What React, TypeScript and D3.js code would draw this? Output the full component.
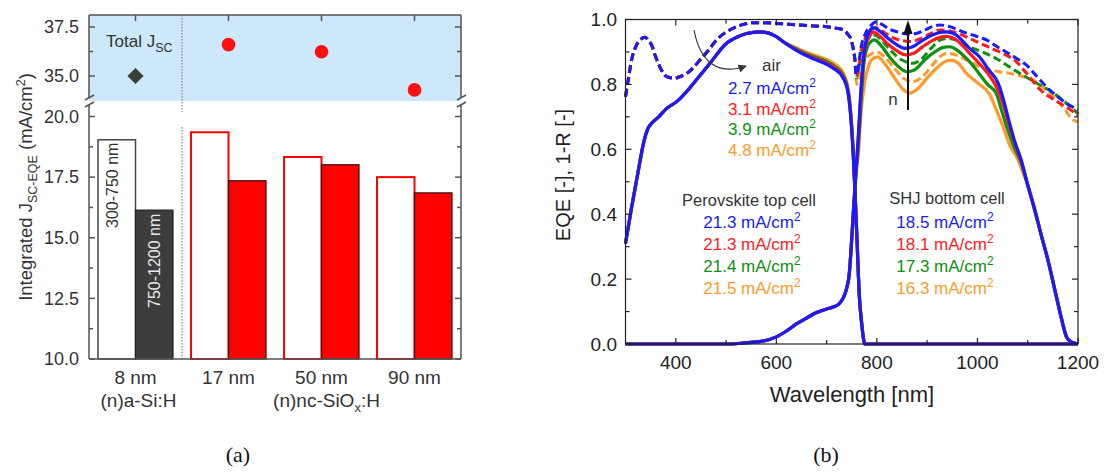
import * as d3 from "d3"

// ---------- panel (a): integrated Jsc ----------
const categories = ["8 nm", "17 nm", "50 nm", "90 nm"]
const topCellJsc = [19.04, 19.35, 18.33, 17.5]      // 300-750 nm
const bottomCellJsc = [16.14, 17.35, 18.01, 16.85]  // 750-1200 nm
const totalJsc = [35.0, 36.6, 36.24, 34.29]
const upperTicks = [35.0, 37.5]
const upperMinor = [36.25]
const lowerTicks = [10.0, 12.5, 15.0, 17.5, 20.0]
const lowerMinor = [11.25, 13.75, 16.25, 18.75]

// ---------- panel (b): EQE and 1-R spectra ----------
const colors = ["#1a1aff", "#ff1a1a", "#109010", "#ff9a2a"] // blue, red, green, orange
const reflLabels = ["2.7", "3.1", "3.9", "4.8"]
const topLabels = ["21.3", "21.3", "21.4", "21.5"]
const bottomLabels = ["18.5", "18.1", "17.3", "16.3"]
const xTicks = [400, 600, 800, 1000, 1200]
const xMinor = [500, 700, 900, 1100]
const yTicks = [0, 0.2, 0.4, 0.6, 0.8, 1.0]
const yMinor = [0.1, 0.3, 0.5, 0.7, 0.9]

const topStart = [[300, 0.31], [312, 0.42], [325, 0.53], [336, 0.62], [345, 0.665], [352, 0.68], [366, 0.7], [382, 0.726], [402, 0.747], [420, 0.775], [435, 0.803], [468, 0.865], [501, 0.927], [525, 0.948], [541, 0.957], [567, 0.962], [585, 0.958], [600, 0.947], [615, 0.93]]
const topEnd = [[757, 0.45], [761, 0.3], [765, 0.15], [770, 0.06], [776, 0.0], [900, 0], [1200, 0]]
const topBlue = [[633, 0.911], [655, 0.892], [680, 0.875], [700, 0.862], [713, 0.85], [733, 0.819], [743, 0.77], [749, 0.68], [753, 0.58]]
const topRed = [[633, 0.913], [655, 0.895], [680, 0.879], [700, 0.866], [713, 0.854], [733, 0.823], [743, 0.775], [749, 0.685], [753, 0.585]]
const topGreen = [[633, 0.915], [655, 0.898], [680, 0.883], [700, 0.871], [713, 0.859], [733, 0.828], [743, 0.78], [749, 0.69], [753, 0.59]]
const topOrange = [[633, 0.917], [655, 0.902], [680, 0.888], [700, 0.877], [713, 0.866], [733, 0.835], [743, 0.786], [749, 0.695], [753, 0.595]]

const bottomStart = [[300, 0], [510, 0], [540, 0.004], [570, 0.008], [600, 0.022], [620, 0.04], [640, 0.062], [660, 0.08], [680, 0.097], [700, 0.108], [713, 0.114], [725, 0.124], [733, 0.142], [740, 0.172], [745, 0.215], [749, 0.3], [753, 0.4], [758, 0.52]]
const bottomEnd = [[1100, 0.49], [1114, 0.413], [1127, 0.335], [1140, 0.26], [1152, 0.18], [1163, 0.105], [1170, 0.06], [1177, 0.022], [1185, 0.008], [1193, 0.003], [1200, 0]]
const bottomBlue = [[763, 0.64], [769, 0.8], [774, 0.89], [779, 0.937], [786, 0.965], [792, 0.975], [805, 0.965], [820, 0.945], [840, 0.922], [855, 0.911], [870, 0.915], [890, 0.935], [910, 0.952], [925, 0.96], [938, 0.962], [955, 0.955], [970, 0.935], [985, 0.91], [1004, 0.885], [1020, 0.85], [1044, 0.793], [1054, 0.74], [1064, 0.68], [1075, 0.62], [1087, 0.567]]
const bottomRed = [[763, 0.63], [769, 0.79], [774, 0.88], [779, 0.925], [786, 0.95], [792, 0.962], [805, 0.95], [820, 0.927], [840, 0.903], [857, 0.891], [872, 0.895], [890, 0.915], [910, 0.935], [925, 0.945], [938, 0.948], [955, 0.94], [970, 0.92], [985, 0.895], [1000, 0.87], [1020, 0.835], [1040, 0.785], [1052, 0.735], [1062, 0.68], [1075, 0.615], [1087, 0.563]]
const bottomGreen = [[763, 0.61], [769, 0.76], [774, 0.86], [781, 0.915], [788, 0.932], [795, 0.937], [808, 0.92], [825, 0.885], [845, 0.852], [860, 0.839], [875, 0.845], [895, 0.875], [915, 0.9], [932, 0.914], [945, 0.916], [960, 0.905], [975, 0.885], [990, 0.86], [1005, 0.83], [1020, 0.8], [1037, 0.773], [1048, 0.72], [1058, 0.67], [1072, 0.61], [1087, 0.558]]
const bottomOrange = [[763, 0.58], [769, 0.72], [775, 0.8], [782, 0.85], [790, 0.877], [802, 0.885], [815, 0.865], [835, 0.82], [852, 0.785], [865, 0.773], [880, 0.785], [900, 0.82], [920, 0.852], [935, 0.87], [948, 0.875], [962, 0.865], [978, 0.834], [1000, 0.805], [1024, 0.77], [1038, 0.72], [1051, 0.67], [1065, 0.61], [1080, 0.57], [1090, 0.53]]

const reflStart = [[300, 0.762], [306, 0.82], [312, 0.875], [320, 0.915], [329, 0.937], [339, 0.945], [346, 0.935], [352, 0.921], [360, 0.885], [368, 0.855], [382, 0.824], [397, 0.819], [410, 0.825], [422, 0.834], [435, 0.852], [448, 0.875], [465, 0.905], [481, 0.937], [497, 0.958], [514, 0.973], [535, 0.985], [554, 0.99], [580, 0.99], [600, 0.988], [625, 0.985], [647, 0.983], [675, 0.98], [700, 0.978], [720, 0.973], [733, 0.968], [742, 0.955], [749, 0.937], [753, 0.91], [756, 0.88]]
const reflBlue = [[759, 0.83], [763, 0.85], [768, 0.91], [776, 0.952], [789, 0.983], [799, 0.993], [810, 0.985], [825, 0.97], [845, 0.96], [860, 0.955], [878, 0.957], [895, 0.967], [910, 0.978], [925, 0.983], [945, 0.978], [971, 0.962], [995, 0.95], [1018, 0.937], [1040, 0.915], [1057, 0.9], [1078, 0.88], [1097, 0.86], [1118, 0.825], [1137, 0.793], [1157, 0.765], [1177, 0.742], [1200, 0.721]]
const reflRed = [[759, 0.825], [763, 0.845], [768, 0.9], [776, 0.94], [789, 0.968], [797, 0.975], [810, 0.965], [830, 0.945], [850, 0.935], [868, 0.932], [885, 0.94], [905, 0.955], [925, 0.968], [945, 0.965], [970, 0.952], [991, 0.937], [1015, 0.92], [1044, 0.9], [1077, 0.87], [1100, 0.83], [1124, 0.785], [1150, 0.755], [1177, 0.73], [1200, 0.705]]
const reflGreen = [[759, 0.82], [765, 0.86], [772, 0.91], [782, 0.94], [795, 0.952], [810, 0.935], [830, 0.9], [850, 0.875], [872, 0.865], [890, 0.88], [910, 0.915], [928, 0.938], [942, 0.942], [960, 0.935], [985, 0.915], [1010, 0.9], [1031, 0.885], [1058, 0.86], [1084, 0.834], [1105, 0.815], [1124, 0.798], [1145, 0.78], [1163, 0.76], [1182, 0.735], [1200, 0.71]]
const reflOrange = [[760, 0.8], [767, 0.84], [775, 0.87], [785, 0.89], [800, 0.9], [815, 0.885], [835, 0.85], [852, 0.82], [870, 0.808], [888, 0.82], [908, 0.855], [925, 0.885], [940, 0.896], [958, 0.89], [985, 0.87], [1011, 0.85], [1040, 0.84], [1064, 0.834], [1088, 0.825], [1110, 0.814], [1135, 0.785], [1157, 0.752], [1175, 0.72], [1190, 0.69], [1200, 0.685]]

const topCurves = [topBlue, topRed, topGreen, topOrange].map(m => [...topStart, ...m, ...topEnd])
const bottomCurves = [bottomBlue, bottomRed, bottomGreen, bottomOrange].map(m => [...bottomStart, ...m, ...bottomEnd])
const reflCurves = [reflBlue, reflRed, reflGreen, reflOrange].map(m => [...reflStart, ...m])

const FONT = "'Liberation Sans', Arial, sans-serif"
const TXT = "#333"

function PanelA() {
  const x = d3.scaleBand().domain(categories).range([89, 461])
  const xs = d3.scaleBand().domain(["top", "bottom"]).range([0, x.bandwidth()]).paddingOuter(0.24)
  const yLow = d3.scaleLinear().domain([10, 20]).range([359, 116.5])
  const yUp = d3.scaleLinear().domain([35, 37.5]).range([76, 27])
  const upTop = yUp.invert(15), upBot = yUp.invert(101)
  const left = 89, right = 461, top = yUp(upTop), bottom = yLow(10)
  const sep = x(categories[1])
  const frame = "#555"

  return (
    <g fontFamily={FONT}>
      <rect x={left} y={top} width={right - left} height={yUp(upBot) - top} fill="#cce8f9" />

      {categories.map((c, i) => {
        const first = i === 0
        const x0 = x(c) + xs("top"), x1 = x(c) + xs("bottom")
        return (
          <g key={c}>
            <rect x={x0} y={yLow(topCellJsc[i])} width={xs.bandwidth()} height={bottom - yLow(topCellJsc[i])}
              fill="#fff" stroke={first ? "#444" : "#ff0000"} strokeWidth={first ? 1.5 : 2} />
            <rect x={x1} y={yLow(bottomCellJsc[i])} width={xs.bandwidth()} height={bottom - yLow(bottomCellJsc[i])}
              fill={first ? "#3d3d3d" : "#ff0000"} stroke={first ? "#222" : "#3a0a0a"} strokeWidth={1.2} />
          </g>
        )
      })}

      <text transform={`translate(${x(categories[0]) + xs("top") + 20},228) rotate(-90)`} fontSize={16} fill={TXT}>300-750 nm</text>
      <text transform={`translate(${x(categories[0]) + xs("bottom") + 24},308) rotate(-90)`} fontSize={16} fill="#e8e8e8">750-1200 nm</text>

      {/* total Jsc markers */}
      <path d={d3.symbol(d3.symbolSquare, 130)()} transform={`translate(${x(categories[0]) + x.bandwidth() / 2},${yUp(totalJsc[0])}) rotate(45)`} fill="#3d3d3d" />
      {totalJsc.slice(1).map((v, i) => (
        <circle key={i} cx={x(categories[i + 1]) + x.bandwidth() / 2} cy={yUp(v)} r={6.8} fill="#ff1010" />
      ))}
      <text x={106} y={47} fontSize={17} fill={TXT}>Total J<tspan fontSize={12.5} dy={5}>SC</tspan></text>

      {/* dotted separator */}
      <line x1={sep} x2={sep} y1={top} y2={112} stroke="#888" strokeWidth={1.2} strokeDasharray="1.5,1.5" />
      <line x1={sep} x2={sep} y1={127} y2={bottom} stroke="#888" strokeWidth={1.2} strokeDasharray="1.5,1.5" />

      {/* frame with axis break */}
      <g stroke={frame} strokeWidth={1.5} fill="none">
        <line x1={left} x2={right} y1={top} y2={top} />
        <line x1={left} x2={right} y1={bottom} y2={bottom} />
        {[left, right].map(xx => (
          <g key={xx}>
            <line x1={xx} x2={xx} y1={top} y2={98} />
            <line x1={xx} x2={xx} y1={105} y2={bottom} />
            <line x1={xx - 4} x2={xx + 5} y1={100} y2={95} />
            <line x1={xx - 4} x2={xx + 5} y1={107} y2={102} />
          </g>
        ))}
        {[...upperTicks.map(v => [yUp(v), 6]), ...upperMinor.map(v => [yUp(v), 4]),
          ...lowerTicks.map(v => [yLow(v), 6]), ...lowerMinor.map(v => [yLow(v), 4])].map(([yy, len], i) => (
          <g key={i}>
            <line x1={left} x2={left + len} y1={yy} y2={yy} />
            <line x1={right} x2={right - len} y1={yy} y2={yy} />
          </g>
        ))}
        {categories.map(c => {
          const cx = x(c) + x.bandwidth() / 2
          return <line key={c} x1={cx} x2={cx} y1={top} y2={top + 6} />
        })}
      </g>

      {/* tick labels */}
      {[...upperTicks.map(v => [yUp(v), v]), ...lowerTicks.map(v => [yLow(v), v])].map(([yy, v], i) => (
        <text key={i} x={79} y={yy} dy="0.35em" textAnchor="end" fontSize={18} fill={TXT}>{v.toFixed(1)}</text>
      ))}
      {categories.map(c => (
        <text key={c} x={x(c) + x.bandwidth() / 2} y={384} textAnchor="middle" fontSize={19} fill={TXT}>{c}</text>
      ))}
      <text x={x(categories[0]) + x.bandwidth() / 2 + 3} y={407} textAnchor="middle" fontSize={19} fill={TXT}>(n)a-Si:H</text>
      <text x={x(categories[2]) + x.bandwidth() / 2 + 5} y={407} textAnchor="middle" fontSize={19} fill={TXT}>
        (n)nc-SiO<tspan fontSize={13} dy={5}>x</tspan><tspan dy={-5}>:H</tspan>
      </text>

      <text transform="translate(32,187) rotate(-90)" textAnchor="middle" fontSize={18.5} fill={TXT}>
        Integrated J<tspan fontSize={12.5} dy={5}>SC-EQE</tspan><tspan dy={-5}> (mA/cm</tspan><tspan fontSize={12.5} dy={-7}>2</tspan><tspan dy={7}>)</tspan>
      </text>

      <text x={238} y={462} textAnchor="middle" fontSize={22} fontFamily="'Liberation Serif', serif" fill="#111">(a)</text>
    </g>
  )
}

function PanelB() {
  const x = d3.scaleLinear().domain([300, 1200]).range([625.5, 1078])
  const y = d3.scaleLinear().domain([0, 1]).range([344, 19.5])
  const line = d3.line().x(d => x(d[0])).y(d => y(d[1])).curve(d3.curveMonotoneX)
  const [x0, x1] = x.range(), [y0, y1] = y.range()
  const order = [3, 2, 1, 0]

  return (
    <g fontFamily={FONT}>
      <defs>
        <marker id="arrowAir" viewBox="0 0 10 10" refX="9" refY="5" markerWidth="7" markerHeight="7" orient="auto">
          <path d="M0,0 L10,5 L0,10 z" fill="#333" />
        </marker>
      </defs>

      {order.map(i => (
        <path key={"r" + i} d={line(reflCurves[i])} fill="none" stroke={colors[i]} strokeWidth={3} strokeDasharray="8,4" />
      ))}
      {order.map(i => (
        <g key={"s" + i}>
          <path d={line(bottomCurves[i])} fill="none" stroke={colors[i]} strokeWidth={3.2} />
          <path d={line(topCurves[i])} fill="none" stroke={colors[i]} strokeWidth={3.2} />
        </g>
      ))}

      {/* frame and ticks */}
      <g stroke="#222" strokeWidth={1.2} fill="none">
        <rect x={x0} y={y1} width={x1 - x0} height={y0 - y1} />
        {[...xTicks.map(v => [v, 6]), ...xMinor.map(v => [v, 4])].map(([v, len]) => (
          <g key={v}>
            <line x1={x(v)} x2={x(v)} y1={y0} y2={y0 - len} />
            <line x1={x(v)} x2={x(v)} y1={y1} y2={y1 + len} />
          </g>
        ))}
        {[...yTicks.map(v => [v, 6]), ...yMinor.map(v => [v, 4])].map(([v, len]) => (
          <g key={v}>
            <line x1={x0} x2={x0 + len} y1={y(v)} y2={y(v)} />
            <line x1={x1} x2={x1 - len} y1={y(v)} y2={y(v)} />
          </g>
        ))}
      </g>

      {yTicks.map(v => (
        <text key={v} x={617} y={y(v)} dy="0.35em" textAnchor="end" fontSize={19} fill="#222">{v.toFixed(1)}</text>
      ))}
      {xTicks.map(v => (
        <text key={v} x={x(v)} y={369} textAnchor="middle" fontSize={19} fill="#222">{v}</text>
      ))}
      <text x={852} y={402} textAnchor="middle" fontSize={22} fill="#222">Wavelength [nm]</text>
      <text transform="translate(570,175) rotate(-90)" textAnchor="middle" fontSize={20} fill="#222">EQE [-], 1-R [-]</text>

      {/* annotations */}
      <path d="M694,30 C700,62 718,76 746,66" fill="none" stroke="#333" strokeWidth={1.2} markerEnd="url(#arrowAir)" />
      <text x={762} y={71} fontSize={17} fill={TXT}>air</text>
      {reflLabels.map((s, i) => (
        <text key={i} x={728} y={94 + i * 20.6} fontSize={17} fill={colors[i]}>{s} mA/cm<tspan fontSize={12} dy={-7}>2</tspan></text>
      ))}

      <line x1={908} x2={908} y1={110} y2={32} stroke="#111" strokeWidth={2} />
      <path d="M908,20 L903.5,34 L912.5,34 z" fill="#111" />
      <text x={893} y={105} textAnchor="middle" fontSize={17} fill={TXT}>n</text>

      <text x={749} y={206} textAnchor="middle" fontSize={16.5} fill={TXT}>Perovskite top cell</text>
      {topLabels.map((s, i) => (
        <text key={i} x={752} y={228 + i * 22} textAnchor="middle" fontSize={17} fill={colors[i]}>{s} mA/cm<tspan fontSize={12} dy={-7}>2</tspan></text>
      ))}
      <text x={947} y={204} textAnchor="middle" fontSize={16.5} fill={TXT}>SHJ bottom cell</text>
      {bottomLabels.map((s, i) => (
        <text key={i} x={945} y={228 + i * 22} textAnchor="middle" fontSize={17} fill={colors[i]}>{s} mA/cm<tspan fontSize={12} dy={-7}>2</tspan></text>
      ))}

      <text x={826} y={462} textAnchor="middle" fontSize={22} fontFamily="'Liberation Serif', serif" fill="#111">(b)</text>
    </g>
  )
}

export default function App() {
  return (
    <svg width={1106} height={473} style={{ position: "absolute", left: 0, top: 0, background: "#fff" }}>
      <PanelA />
      <PanelB />
    </svg>
  )
}
